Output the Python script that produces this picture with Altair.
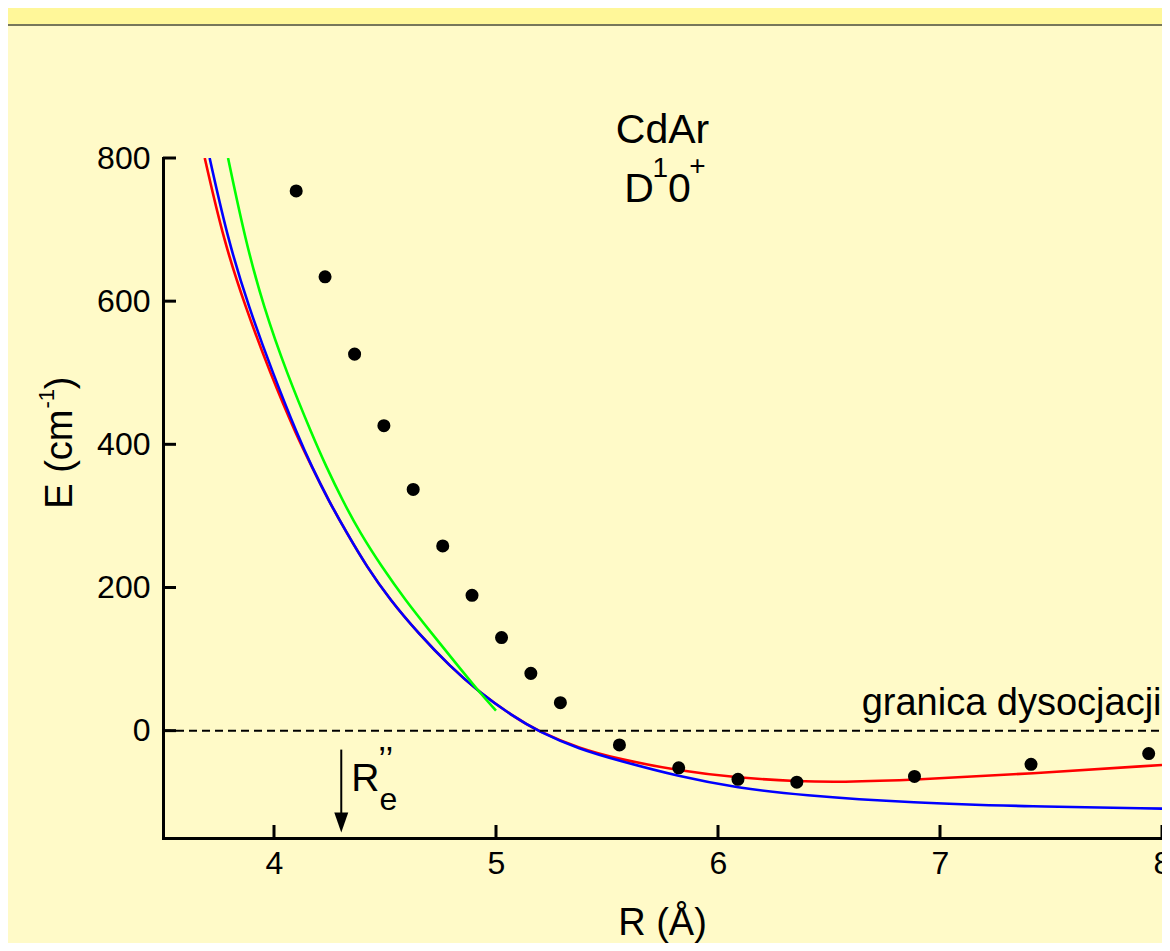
import altair as alt
import pandas as pd

# ---- data ----
dot_R = [4.10, 4.23, 4.363, 4.495, 4.627, 4.76, 4.892, 5.025, 5.157, 5.29, 5.556, 5.823, 6.09, 6.355, 6.885, 7.41, 7.94]
dot_E = [754, 634, 526, 426, 337, 258, 189, 130, 80, 39, -20, -52, -68, -72, -64, -47, -32]

red_R = [3.688, 3.773, 3.871, 3.983, 4.103, 4.17, 4.245, 4.328, 4.418, 4.522, 4.65, 4.792, 4.927, 5.077, 5.19,
         5.376, 5.556, 5.823, 6.09, 6.365, 6.55, 6.88, 7.41, 8.0]
red_E = [800, 685, 592, 499, 411, 369, 322, 276, 229, 183, 136, 90, 53, 20, -1,
         -25, -40, -56, -66, -71, -72, -69, -60, -48]

blue_R = [3.71, 3.793, 3.886, 3.995, 4.109, 4.17, 4.245, 4.328, 4.418, 4.522, 4.65, 4.792, 4.927, 5.077, 5.19,
          5.376, 5.556, 5.823, 6.09, 6.365, 6.88, 7.41, 8.0]
blue_E = [800, 685, 592, 499, 411, 369, 322, 276, 229, 183, 136, 90, 53, 20, -1,
          -26, -42, -64, -80, -90, -101, -106, -109]

green_R = [3.793, 3.871, 3.953, 4.058, 4.175, 4.235, 4.308, 4.388, 4.485, 4.59, 4.71, 4.83, 4.927, 5.0]
green_E = [800, 685, 592, 499, 411, 369, 322, 276, 229, 183, 136, 90, 53, 28]

x_ticks = [4, 5, 6, 7, 8]
y_ticks = [0, 200, 400, 600, 800]
x_domain = [3.5, 8.0]
y_domain = [-150, 800]

dissoc_level = 0
dissoc_label = "granica dysocjacji"
re_R = 4.303  # R''e marker position

W, H = 999, 680
FONT = "Liberation Sans"
BG = "#FFFAC8"

xs = alt.Scale(domain=x_domain, nice=False, zero=False)
ys = alt.Scale(domain=y_domain, nice=False, zero=False)

xax = alt.Axis(values=x_ticks, format="d", ticks=False, tickSize=0, labelPadding=10, labelFontSize=32,
               labelFont=FONT, labelColor="black", domainColor="black", domainWidth=3,
               grid=False, title=None, labelFlush=False)
yax = alt.Axis(values=y_ticks, format="d", ticks=False, tickSize=0, labelPadding=13, labelFontSize=32,
               labelFont=FONT, labelColor="black", domainColor="black", domainWidth=3,
               grid=False, title=None)

def curve(R, E, color):
    df = pd.DataFrame({"R": R, "E": E})
    return alt.Chart(df).mark_line(color=color, strokeWidth=2.6, interpolate="basis", clip=True).encode(
        x=alt.X("R:Q", scale=xs, axis=xax), y=alt.Y("E:Q", scale=ys, axis=yax))

one = alt.Data(values=[{}])

# header band decoration
band = alt.Chart(one).mark_rect(color="#FFF799", clip=False).encode(
    x=alt.value(-160), x2=alt.value(W + 10), y=alt.value(-150), y2=alt.value(-134))
band_line = alt.Chart(one).mark_rect(color="#77775A", clip=False).encode(
    x=alt.value(-160), x2=alt.value(W + 10), y=alt.value(-134), y2=alt.value(-132))

# inward ticks
xt = alt.Chart(pd.DataFrame({"R": x_ticks})).mark_rule(color="black", strokeWidth=3).encode(
    x=alt.X("R:Q", scale=xs), y=alt.value(H), y2=alt.value(H - 13))
yt = alt.Chart(pd.DataFrame({"E": y_ticks})).mark_rule(color="black", strokeWidth=3).encode(
    y=alt.Y("E:Q", scale=ys), x=alt.value(0), x2=alt.value(13))

dash = alt.Chart(pd.DataFrame({"R": [x_domain[0]], "R2": [x_domain[1]], "E": [dissoc_level]})).mark_rule(
    color="black", strokeWidth=2, strokeDash=[8, 5]).encode(
    x=alt.X("R:Q", scale=xs), x2="R2:Q", y=alt.Y("E:Q", scale=ys))

dots = alt.Chart(pd.DataFrame({"R": dot_R, "E": dot_E})).mark_circle(
    color="black", size=170, opacity=1).encode(x=alt.X("R:Q", scale=xs), y=alt.Y("E:Q", scale=ys))

def txt(items, size, align="left", angle=0):
    df = pd.DataFrame(items, columns=["R", "E", "t"])
    return alt.Chart(df).mark_text(font=FONT, fontSize=size, align=align, baseline="alphabetic",
                                   color="black", angle=angle, clip=False).encode(
        x=alt.X("R:Q", scale=xs), y=alt.Y("E:Q", scale=ys), text="t:N")

texts = [
    txt([(5.75, 821, "CdAr")], 41, "center"),
    txt([(5.578, 738, "D"), (5.775, 738, "0")], 41),
    txt([(5.705, 773, "1"), (5.87, 776, "+")], 28),
    txt([(7.998, 22, dissoc_label)], 38, "right"),
    txt([(4.348, -85, "R")], 39),
    txt([(4.47, -56, "’’")], 35),
    txt([(4.475, -111, "e")], 32),
    txt([(5.75, -286, "R (Å)")], 38, "center"),
    txt([(3.091, 310, "E (cm"), (3.091, 477, ")")], 38, "left", 270),
    txt([(3.01, 450, "-1")], 22, "left", 270),
]

arrow_line = alt.Chart(pd.DataFrame({"R": [re_R], "E": [-26.5], "E2": [-116]})).mark_rule(
    color="black", strokeWidth=2).encode(x=alt.X("R:Q", scale=xs), y=alt.Y("E:Q", scale=ys), y2="E2:Q")
arrow_head = alt.Chart(pd.DataFrame({"R": [re_R], "E": [-128.5]})).mark_point(
    shape="M-0.7,-1L0.7,-1L0,1Z", size=400, filled=True, color="black", opacity=1).encode(
    x=alt.X("R:Q", scale=xs), y=alt.Y("E:Q", scale=ys))

chart = alt.layer(
    band, band_line,
    curve(red_R, red_E, "#FF0000"),
    curve(blue_R, blue_E, "#0000FF"),
    curve(green_R, green_E, "#00FF00"),
    dash, xt, yt, dots, arrow_line, arrow_head, *texts,
).properties(
    width=W, height=H, background=BG,
    autosize=alt.AutoSizeParams(type="none"),
    padding={"left": 155, "top": 150, "right": 0, "bottom": 105},
).configure_view(stroke=None).configure_axis(domainCap="square")

chart.save("out.html", embed_options={"renderer": "svg", "actions": False})
